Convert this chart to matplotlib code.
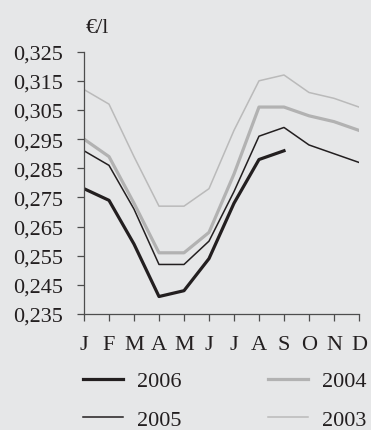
import matplotlib
matplotlib.use('Agg')
import matplotlib.pyplot as plt

# monthly values, euro per litre
months = ['J', 'F', 'M', 'A', 'M', 'J', 'J', 'A', 'S', 'O', 'N', 'D']
y2006 = [0.278, 0.274, 0.259, 0.241, 0.243, 0.254, 0.273, 0.288, 0.291]
y2005 = [0.291, 0.286, 0.271, 0.252, 0.252, 0.260, 0.277, 0.296, 0.299, 0.293, 0.290, 0.287]
y2004 = [0.295, 0.289, 0.273, 0.256, 0.256, 0.263, 0.283, 0.306, 0.306, 0.303, 0.301, 0.298]
y2003 = [0.312, 0.307, 0.289, 0.272, 0.272, 0.278, 0.298, 0.315, 0.317, 0.311, 0.309, 0.306]
yticks = [0.235, 0.245, 0.255, 0.265, 0.275, 0.285, 0.295, 0.305, 0.315, 0.325]

bg = '#e6e7e8'
txt = '#231f20'
plt.rcParams['font.family'] = ['Liberation Serif', 'DejaVu Serif']

fig = plt.figure(figsize=(3.71, 4.31), dpi=100, facecolor=bg)
ax = fig.add_axes([0.2264, 0.2691, 0.7412, 0.6087])
ax.set_facecolor(bg)

x = list(range(12))
ax.plot(x[:len(y2006)], y2006, color=txt, lw=2.3, label='2006')
ax.plot(x, y2005, color=txt, lw=1.1, label='2005')
ax.plot(x, y2004, color='#b2b2b2', lw=2.3, label='2004')
ax.plot(x, y2003, color='#bababa', lw=1.1, label='2003')

ax.set_xlim(0, 11)
ax.set_ylim(0.235, 0.325)
ax.set_xticks(x)
ax.set_xticklabels(months, fontsize=16, color=txt)
ax.set_yticks(yticks)
ax.set_yticklabels([('%.3f' % v).replace('.', ',') for v in yticks], fontsize=16, color=txt)

for s in ['top', 'right']:
    ax.spines[s].set_visible(False)
for s in ['left', 'bottom']:
    ax.spines[s].set_color('#4d4d4d')
    ax.spines[s].set_linewidth(0.9)
ax.tick_params(axis='both', direction='out', length=5, width=0.9, color='#4d4d4d')
ax.tick_params(axis='y', pad=10)
ax.tick_params(axis='x', pad=10)

# unit label above the axis
ax.text(0.005, 1.094, '€/l', transform=ax.transAxes, fontsize=16, color=txt,
        ha='left', va='center')

leg = fig.legend(loc='lower left', bbox_to_anchor=(0.17, -0.047), ncol=2,
                 frameon=False, fontsize=16, handlelength=1.8, handletextpad=0.62,
                 columnspacing=3.92, labelspacing=0.82)
for t in leg.get_texts():
    t.set_color(txt)

plt.savefig('out.png', dpi=100, facecolor=bg)
